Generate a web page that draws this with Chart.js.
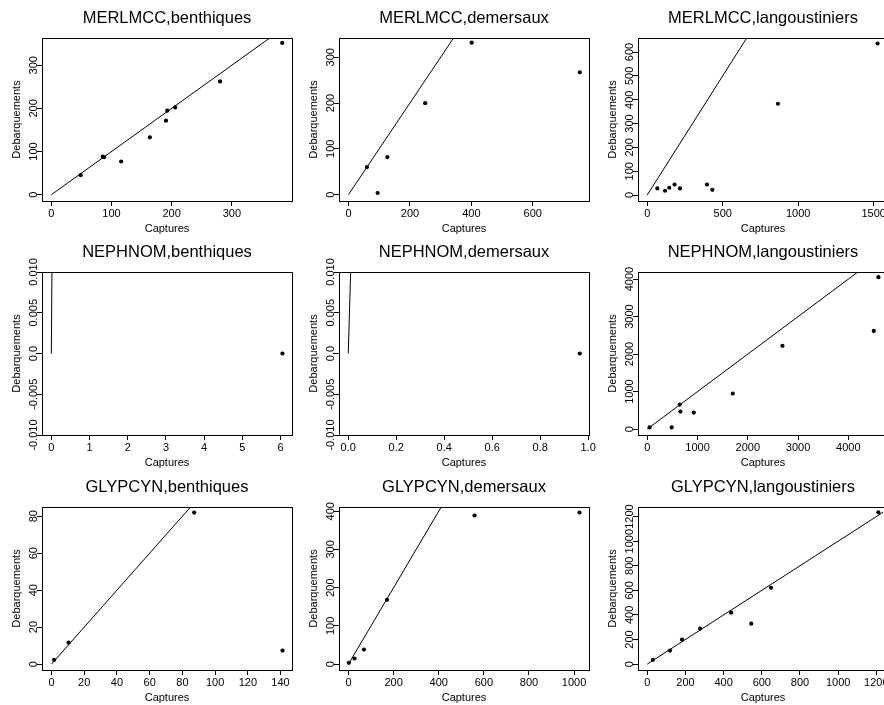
<!DOCTYPE html>
<html><head><meta charset="utf-8">
<script src="https://cdn.jsdelivr.net/npm/chart.js@4"></script>
<style>
html,body{margin:0;padding:0;background:#fff;overflow:hidden;width:884px;height:705px;}
#wrap{position:relative;width:884px;height:705px;overflow:hidden;background:#fff;}
canvas{position:absolute;}
</style></head><body><div id="wrap"></div>
<script>
// ---- panel titles ----
const titles = ["MERLMCC,benthiques","MERLMCC,demersaux","MERLMCC,langoustiniers",
                "NEPHNOM,benthiques","NEPHNOM,demersaux","NEPHNOM,langoustiniers",
                "GLYPCYN,benthiques","GLYPCYN,demersaux","GLYPCYN,langoustiniers"];

// ---- data: Captures (x) and Debarquements (y) ----
const merlBenCapt = [48.8, 85.5, 87.7, 116, 163.8, 190.5, 192.7, 206, 280.5, 383.8];
const merlBenDeb  = [45.3, 88.4, 86.8, 77, 133, 171.6, 194.7, 202.3, 262.4, 351.7];
const merlDemCapt = [60, 94.8, 126.5, 249.6, 401, 753];
const merlDemDeb  = [60, 3.5, 82, 199.6, 331.8, 267];
const merlLanCapt = [67, 118, 146, 181, 217, 396, 431, 866, 1526];
const merlLanDeb  = [27.6, 18, 30.5, 44.3, 27.6, 44.3, 22, 383, 636];
const nephBenCapt = [6.05];
const nephBenDeb  = [0];
const nephDemCapt = [0.965];
const nephDemDeb  = [0];
const nephLanCapt = [46, 485, 645, 659, 925, 1700, 2690, 4507, 4599];
const nephLanDeb  = [43, 43, 653, 467, 441, 946, 2221, 2619, 4053];
const glypBenCapt = [1.6, 10.4, 87.2, 141.2];
const glypBenDeb  = [2.3, 11.6, 82, 7.3];
const glypDemCapt = [1.8, 26.7, 68.4, 170.7, 558.7, 1024];
const glypDemDeb  = [3.4, 14.6, 38, 168.2, 388.8, 396.6];
const glypLanCapt = [29.8, 119.1, 182.2, 276.8, 439.7, 544.8, 648.3, 1210.5];
const glypLanDeb  = [34.9, 110.3, 199.5, 288.7, 418.4, 329.2, 621, 1235];

// ---- axis ranges [min,max] ----
const xRanges = [[-15.5,400],[-31,783],[-61,1595],[-0.245,6.3],[-0.0386,1.0036],[-185,4790],[-5.8,147],[-42,1066],[-48.5,1261]];
const yRanges = [[-14.5,363],[-14,342],[-25,659],[-0.01,0.01],[-0.01,0.01],[-158,4190],[-3.2,85],[-15.5,411],[-48,1278]];

// ---- tick values and labels ----
const xTicks = [[0,100,200,300],[0,200,400,600],[0,500,1000,1500],[0,1,2,3,4,5,6],[0,0.2,0.4,0.6,0.8,1.0],
                [0,1000,2000,3000,4000],[0,20,40,60,80,100,120,140],[0,200,400,600,800,1000],[0,200,400,600,800,1000,1200]];
const xTickLabels = [["0","100","200","300"],["0","200","400","600"],["0","500","1000","1500"],["0","1","2","3","4","5","6"],
                ["0.0","0.2","0.4","0.6","0.8","1.0"],["0","1000","2000","3000","4000"],["0","20","40","60","80","100","120","140"],
                ["0","200","400","600","800","1000"],["0","200","400","600","800","1000","1200"]];
const yTicks = [[0,100,200,300],[0,100,200,300],[0,100,200,300,400,500,600],[-0.01,-0.005,0,0.005,0.01],[-0.01,-0.005,0,0.005,0.01],
                [0,1000,2000,3000,4000],[0,20,40,60,80],[0,100,200,300,400],[0,200,400,600,800,1000,1200]];
const yTickLabels = [["0","100","200","300"],["0","100","200","300"],["0","100","200","300","400","500","600"],
                ["-0.010","-0.005","0.0","0.005","0.010"],["-0.010","-0.005","0.0","0.005","0.010"],
                ["0","1000","2000","3000","4000"],["0","20","40","60","80"],["0","100","200","300","400"],
                ["0","200","400","600","800","1000","1200"]];

const captures = [merlBenCapt, merlDemCapt, merlLanCapt, nephBenCapt, nephDemCapt, nephLanCapt, glypBenCapt, glypDemCapt, glypLanCapt];
const debarq   = [merlBenDeb, merlDemDeb, merlLanDeb, nephBenDeb, nephDemDeb, nephLanDeb, glypBenDeb, glypDemDeb, glypLanDeb];

// ---- layout ----
const colLeft = [0, 295, 593];
const colAxisW = [42, 44, 45];
const rowTop = [0, 235, 470];
const rowPadTop = [38, 37, 37];
const BOX_W = 250, BOX_H = 163, CANVAS_H = 235;
const FONT = '"Liberation Sans", Arial, Helvetica, sans-serif';

function makePlugin(i) {
  return {
    id: 'rplot' + i,
    afterDraw(chart) {
      const ctx = chart.ctx, a = chart.chartArea;
      const xs = chart.scales.x, ys = chart.scales.y;
      ctx.save();
      ctx.strokeStyle = '#000'; ctx.lineWidth = 1;
      ctx.strokeRect(Math.round(a.left) + 0.5, Math.round(a.top) + 0.5,
                     Math.round(a.right - a.left), Math.round(a.bottom - a.top));
      ctx.fillStyle = '#000';
      ctx.textAlign = 'center'; ctx.textBaseline = 'alphabetic';
      ctx.font = '16.5px ' + FONT;
      ctx.fillText(titles[i], (a.left + a.right) / 2, a.top - 15.3);
      ctx.font = '11px ' + FONT;
      xTicks[i].forEach((v, k) => ctx.fillText(xTickLabels[i][k], xs.getPixelForValue(v), a.bottom + 15.5));
      ctx.fillText('Captures', (a.left + a.right) / 2, a.bottom + 30.5);
      yTicks[i].forEach((v, k) => {
        ctx.save();
        ctx.translate(a.left - 5.5, ys.getPixelForValue(v));
        ctx.rotate(-Math.PI / 2);
        ctx.fillText(yTickLabels[i][k], 0, 0);
        ctx.restore();
      });
      ctx.save();
      ctx.translate(a.left - 22.4, (a.top + a.bottom) / 2);
      ctx.rotate(-Math.PI / 2);
      ctx.fillText('Debarquements', 0, 0);
      ctx.restore();
      ctx.restore();
    }
  };
}

const wrap = document.getElementById('wrap');
for (let i = 0; i < 9; i++) {
  const col = i % 3, row = Math.floor(i / 3);
  const L = colAxisW[col], T = rowPadTop[row];
  const W = L + BOX_W + 14;
  const B = CANVAS_H - T - BOX_H;
  const cv = document.createElement('canvas');
  cv.width = W; cv.height = CANVAS_H;
  cv.style.left = colLeft[col] + 'px'; cv.style.top = rowTop[row] + 'px';
  cv.style.width = W + 'px'; cv.style.height = CANVAS_H + 'px';
  wrap.appendChild(cv);

  const pts = captures[i].map((x, k) => ({ x: x, y: debarq[i][k] }));
  const m = Math.max(...captures[i], ...debarq[i]);
  const xt = xTicks[i], yt = yTicks[i];

  new Chart(cv, {
    type: 'scatter',
    data: {
      datasets: [
        { data: pts, showLine: false, pointRadius: 2.1, pointHoverRadius: 2.1, pointBackgroundColor: '#000',
          pointBorderWidth: 0, borderColor: '#000', clip: false },
        { data: [{ x: 0, y: 0 }, { x: m, y: m }], showLine: true, pointRadius: 0, pointHoverRadius: 0,
          borderColor: '#000', borderWidth: 1, fill: false, clip: 0 }
      ]
    },
    options: {
      responsive: false, animation: false, devicePixelRatio: 1, events: [],
      layout: { padding: { top: T, right: W - L - BOX_W, left: 0, bottom: 0 } },
      plugins: { legend: { display: false }, tooltip: { enabled: false }, title: { display: false } },
      scales: {
        x: {
          type: 'linear', position: 'bottom', bounds: 'data',
          min: xRanges[i][0], max: xRanges[i][1],
          afterBuildTicks: s => { s.ticks = xt.map(v => ({ value: v })); },
          afterFit: s => { s.height = B; },
          ticks: { display: false },
          grid: { drawOnChartArea: false, drawTicks: true, tickLength: 5, color: '#000', lineWidth: 1 },
          border: { display: false }
        },
        y: {
          type: 'linear', position: 'left', bounds: 'data',
          min: yRanges[i][0], max: yRanges[i][1],
          afterBuildTicks: s => { s.ticks = yt.map(v => ({ value: v })); },
          afterFit: s => { s.width = L; },
          ticks: { display: false },
          grid: { drawOnChartArea: false, drawTicks: true, tickLength: 5, color: '#000', lineWidth: 1 },
          border: { display: false }
        }
      }
    },
    plugins: [makePlugin(i)]
  });
}
</script>
</body></html>
